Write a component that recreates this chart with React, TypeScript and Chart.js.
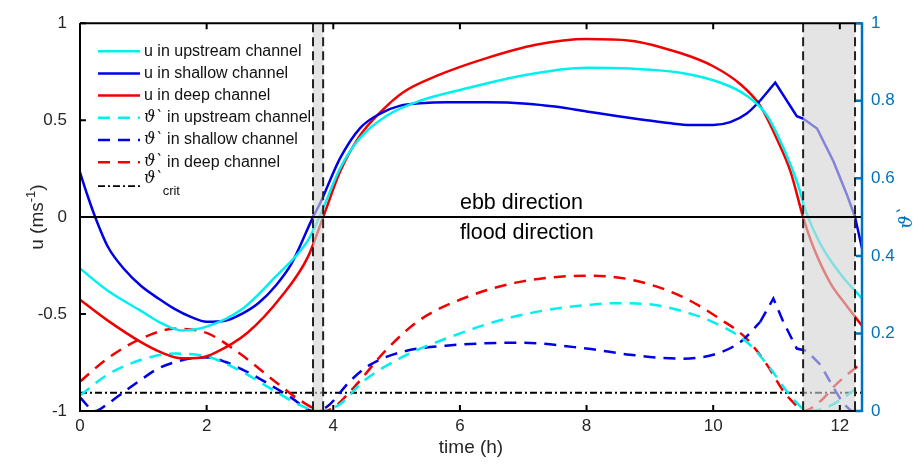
import React, { useEffect, useRef } from 'react';
import { Chart, registerables } from 'chart.js';
Chart.register(...registerables);

// ---------- data ----------
const X_MIN = 0;
const X_MAX = 12.35;
const xTicks = [0, 2, 4, 6, 8, 10, 12];
const U_MIN = -1;
const U_MAX = 1;
const uTicks = [-1, -0.5, 0, 0.5, 1];
const TH_MIN = 0;
const TH_MAX = 1;
const thTicks = [0, 0.2, 0.4, 0.6, 0.8, 1];

// u in upstream channel
const tUp = [0, 0.44, 0.97, 1.3, 1.6, 2.0, 2.55, 3.08, 3.6, 3.78, 4.11, 4.42, 4.85, 5.37, 6.16, 6.95, 8.0, 8.69, 9.48, 10.11, 10.53, 10.85, 11.11, 11.32, 11.48, 11.69, 12.0, 12.35];
const uUp = [-0.265, -0.38, -0.485, -0.55, -0.585, -0.565, -0.477, -0.31, -0.12, 0, 0.253, 0.407, 0.524, 0.6, 0.668, 0.728, 0.77, 0.766, 0.745, 0.694, 0.626, 0.524, 0.356, 0.185, 0.015, -0.137, -0.29, -0.42];

// u in shallow channel
const tSh = [0, 0.12, 0.24, 0.44, 0.71, 0.97, 1.25, 1.5, 1.75, 2.0, 2.29, 2.55, 2.82, 3.1, 3.34, 3.68, 3.79, 4.11, 4.42, 4.74, 5.06, 5.37, 5.8, 6.43, 7.06, 7.5, 8.0, 8.5, 8.95, 9.3, 9.64, 10.0, 10.27, 10.53, 10.74, 10.98, 11.32, 11.42, 11.64, 11.9, 12.11, 12.24, 12.35];
const uSh = [0.23, 0.11, 0, -0.153, -0.273, -0.357, -0.422, -0.475, -0.515, -0.54, -0.535, -0.5, -0.443, -0.35, -0.24, 0, 0.07, 0.305, 0.458, 0.534, 0.575, 0.587, 0.592, 0.592, 0.585, 0.57, 0.545, 0.52, 0.5, 0.485, 0.475, 0.475, 0.49, 0.534, 0.6, 0.694, 0.52, 0.508, 0.457, 0.287, 0.117, 0, -0.16];

// u in deep channel
const tDp = [0, 0.44, 0.97, 1.3, 1.6, 1.9, 2.13, 2.65, 3.18, 3.6, 3.84, 4.11, 4.42, 4.74, 5.1, 5.63, 6.42, 7.2, 8.0, 8.69, 9.48, 10.0, 10.43, 10.74, 11.0, 11.22, 11.42, 11.58, 11.85, 12.11, 12.35];
const uDp = [-0.426, -0.534, -0.646, -0.7, -0.728, -0.725, -0.7, -0.595, -0.41, -0.205, 0, 0.236, 0.42, 0.54, 0.643, 0.728, 0.82, 0.889, 0.918, 0.91, 0.846, 0.778, 0.685, 0.575, 0.407, 0.236, 0, -0.153, -0.34, -0.458, -0.56];

// theta' in upstream channel
const tUpT = [0, 0.44, 0.97, 1.5, 2.02, 2.55, 3.08, 3.5, 3.78, 4.11, 4.47, 5.1, 5.9, 6.68, 7.47, 8.0, 8.43, 8.95, 9.48, 10.0, 10.53, 10.9, 11.16, 11.32, 11.48, 11.8, 12.11, 12.35];
const thUp = [0.04, 0.094, 0.132, 0.148, 0.14, 0.102, 0.051, 0.013, 0, 0.018, 0.076, 0.14, 0.194, 0.236, 0.263, 0.273, 0.278, 0.276, 0.259, 0.229, 0.178, 0.11, 0.051, 0.021, 0, 0.01, 0.04, 0.07];

// theta' in shallow channel
const tShT = [0, 0.24, 0.45, 0.71, 1.0, 1.24, 1.5, 1.76, 2.02, 2.29, 2.55, 2.82, 3.1, 3.34, 3.68, 3.9, 4.27, 4.58, 5.1, 5.9, 6.95, 8.0, 8.69, 9.48, 10.0, 10.43, 10.74, 10.95, 11.11, 11.32, 11.48, 11.7, 11.9, 12.05, 12.18, 12.35];
const thSh = [0.035, 0, 0.02, 0.051, 0.085, 0.11, 0.126, 0.136, 0.138, 0.127, 0.108, 0.085, 0.058, 0.034, 0, 0.011, 0.078, 0.119, 0.153, 0.17, 0.176, 0.161, 0.145, 0.135, 0.145, 0.178, 0.229, 0.29, 0.229, 0.161, 0.155, 0.118, 0.06, 0.02, 0, 0];

// theta' in deep channel
const tDpT = [0, 0.44, 0.97, 1.5, 1.75, 2.02, 2.55, 3.08, 3.5, 3.84, 4.0, 4.32, 4.85, 5.37, 6.16, 6.95, 8.0, 8.69, 9.48, 10.11, 10.53, 10.85, 11.11, 11.27, 11.42, 11.69, 11.95, 12.35];
const thDp = [0.076, 0.136, 0.187, 0.212, 0.21, 0.2, 0.145, 0.076, 0.025, 0, 0.008, 0.06, 0.16, 0.235, 0.297, 0.333, 0.349, 0.339, 0.297, 0.237, 0.186, 0.119, 0.051, 0.021, 0, 0.025, 0.07, 0.125];

// critical theta'
const thCrit = 0.047;

// shaded periods (h)
const greyBands = [[3.68, 3.84], [11.42, 12.24]];

// time after which the shallow-channel curves are drawn unsmoothed (sharp peak)
const SHARP_FROM = 10.74;

const seriesLabels = [
  'u in upstream channel',
  'u in shallow channel',
  'u in deep channel',
  'ϑ` in upstream channel',
  'ϑ` in shallow channel',
  'ϑ` in deep channel',
];
const critSub = 'crit';
const ebbText = 'ebb direction';
const floodText = 'flood direction';
const xTitle = 'time (h)';
const yTitleMain = 'u (ms';
const yTitleSup = '-1';
const yTitleEnd = ')';

// ---------- styles ----------
const CYAN = '#00F0F0';
const BLUE = '#0000E6';
const RED = '#F00000';
const AX_BLUE = '#0072BD';
const TXT = '#262626';
const FONT = '"Liberation Sans", Arial, Helvetica, sans-serif';
const SERIF = '"DejaVu Serif", serif';
const DASH = [12, 8];
const DASHDOT = [7, 3, 2, 3];

const pts = (t: number[], v: number[]) => t.map((x, i) => ({ x, y: v[i] }));
const fmt = (v: number) => String(Math.round(v * 100) / 100);

function drawTheta(ctx: CanvasRenderingContext2D, x: number, y: number, size: number) {
  ctx.font = `italic ${size}px ${SERIF}`;
  ctx.fillText('ϑ', x, y);
  const w = ctx.measureText('ϑ').width;
  ctx.fillText('`', x + w - size * 0.05, y);
  const w2 = ctx.measureText('`').width;
  return w + w2 - size * 0.05;
}

const overlayPlugin = {
  id: 'overlay',
  afterDatasetsDraw(chart: any) {
    const { ctx, chartArea: ca, scales } = chart;
    const x = scales.x, y = scales.y, y2 = scales.y2;
    ctx.save();
    // grey bands over lines
    ctx.fillStyle = 'rgba(212,212,212,0.62)';
    greyBands.forEach(([a, b]) => {
      const xa = x.getPixelForValue(a), xb = x.getPixelForValue(b);
      ctx.fillRect(xa, ca.top, xb - xa, ca.bottom - ca.top);
    });
    // zero line
    ctx.strokeStyle = '#000';
    ctx.lineWidth = 2;
    ctx.setLineDash([]);
    ctx.beginPath();
    const y0 = y.getPixelForValue(0);
    ctx.moveTo(ca.left, y0);
    ctx.lineTo(ca.right, y0);
    ctx.stroke();
    // vertical dashed lines
    ctx.lineWidth = 2;
    ctx.strokeStyle = '#222';
    ctx.setLineDash([9, 5]);
    greyBands.forEach(([a, b]) => {
      [a, b].forEach((v) => {
        const px = x.getPixelForValue(v);
        ctx.beginPath();
        ctx.moveTo(px, ca.top);
        ctx.lineTo(px, ca.bottom);
        ctx.stroke();
      });
    });
    ctx.setLineDash([]);
    // box lines
    ctx.strokeStyle = '#000';
    ctx.lineWidth = 2;
    ctx.beginPath();
    ctx.moveTo(ca.left, ca.top);
    ctx.lineTo(ca.right, ca.top);
    ctx.moveTo(ca.left, ca.top);
    ctx.lineTo(ca.left, ca.bottom);
    ctx.lineTo(ca.right, ca.bottom);
    ctx.stroke();
    // ticks, inward
    const TL = 6;
    ctx.beginPath();
    x.ticks.forEach((tk: any) => {
      const px = x.getPixelForValue(tk.value);
      ctx.moveTo(px, ca.bottom);
      ctx.lineTo(px, ca.bottom - TL);
      ctx.moveTo(px, ca.top);
      ctx.lineTo(px, ca.top + TL);
    });
    y.ticks.forEach((tk: any) => {
      const py = y.getPixelForValue(tk.value);
      ctx.moveTo(ca.left, py);
      ctx.lineTo(ca.left + TL, py);
    });
    ctx.stroke();
    // right axis
    ctx.strokeStyle = AX_BLUE;
    ctx.lineWidth = 2.5;
    ctx.beginPath();
    ctx.moveTo(ca.right, ca.top - 1);
    ctx.lineTo(ca.right, ca.bottom + 1);
    y2.ticks.forEach((tk: any) => {
      const py = y2.getPixelForValue(tk.value);
      ctx.moveTo(ca.right, py);
      ctx.lineTo(ca.right - TL, py);
    });
    ctx.stroke();

    // ebb / flood text
    ctx.fillStyle = '#000';
    ctx.font = `21.5px ${FONT}`;
    ctx.textAlign = 'left';
    ctx.textBaseline = 'middle';
    ctx.fillText(ebbText, x.getPixelForValue(6), y.getPixelForValue(0.07));
    ctx.fillText(floodText, x.getPixelForValue(6), y.getPixelForValue(-0.08));

    // axis titles
    ctx.fillStyle = TXT;
    ctx.font = `19px ${FONT}`;
    ctx.textAlign = 'center';
    ctx.fillText(xTitle, (ca.left + ca.right) / 2, ca.bottom + 37);
    // left title with superscript
    ctx.save();
    ctx.translate(38, (ca.top + ca.bottom) / 2);
    ctx.rotate(-Math.PI / 2);
    ctx.textAlign = 'left';
    ctx.font = `19px ${FONT}`;
    const wMain = ctx.measureText(yTitleMain).width;
    ctx.font = `13px ${FONT}`;
    const wSup = ctx.measureText(yTitleSup).width;
    ctx.font = `19px ${FONT}`;
    const wEnd = ctx.measureText(yTitleEnd).width;
    const x0 = -(wMain + wSup + wEnd) / 2;
    ctx.fillText(yTitleMain, x0, 0);
    ctx.font = `13px ${FONT}`;
    ctx.fillText(yTitleSup, x0 + wMain, -7);
    ctx.font = `19px ${FONT}`;
    ctx.fillText(yTitleEnd, x0 + wMain + wSup, 0);
    ctx.restore();
    // right title
    ctx.save();
    ctx.fillStyle = AX_BLUE;
    ctx.translate(ca.right + 45, (ca.top + ca.bottom) / 2);
    ctx.rotate(-Math.PI / 2);
    ctx.textAlign = 'left';
    ctx.font = `italic 19px ${SERIF}`;
    const tw = ctx.measureText('ϑ`').width;
    drawTheta(ctx, -tw / 2, 0, 19);
    ctx.restore();

    // legend
    const colors = [CYAN, BLUE, RED, CYAN, BLUE, RED];
    const lx0 = ca.left + 18, lx1 = ca.left + 60, tx = ca.left + 64;
    ctx.textAlign = 'left';
    ctx.textBaseline = 'middle';
    seriesLabels.forEach((lab, i) => {
      const ly = ca.top + 28 + i * 22.2;
      ctx.strokeStyle = colors[i];
      ctx.lineWidth = 2.5;
      ctx.setLineDash(i >= 3 ? DASH : []);
      ctx.beginPath();
      ctx.moveTo(lx0, ly);
      ctx.lineTo(lx1, ly);
      ctx.stroke();
      ctx.fillStyle = '#111';
      if (lab.startsWith('ϑ`')) {
        const w = drawTheta(ctx, tx, ly, 16);
        ctx.font = `16px ${FONT}`;
        ctx.fillText(lab.slice(2), tx + w, ly);
      } else {
        ctx.font = `16px ${FONT}`;
        ctx.fillText(lab, tx, ly);
      }
    });
    const cy = ca.top + 163;
    ctx.strokeStyle = '#000';
    ctx.lineWidth = 1.8;
    ctx.setLineDash(DASHDOT);
    ctx.beginPath();
    ctx.moveTo(lx0, cy);
    ctx.lineTo(lx1, cy);
    ctx.stroke();
    ctx.setLineDash([]);
    ctx.fillStyle = '#111';
    const cw = drawTheta(ctx, tx, cy - 7, 16);
    ctx.font = `13px ${FONT}`;
    ctx.fillText(critSub, tx + cw, cy + 5);
    ctx.restore();
  },
};

export default function App() {
  const ref = useRef<HTMLCanvasElement>(null);
  useEffect(() => {
    document.body.style.margin = '0';
    const base = (t: number[], v: number[], color: string, axis: string, dashed: boolean, smooth: boolean) => ({
      data: pts(t, v), borderColor: color, backgroundColor: color, borderWidth: 2.5,
      pointRadius: 0, tension: 0, yAxisID: axis, borderDash: dashed ? DASH : [],
      cubicInterpolationMode: smooth ? 'monotone' : 'default',
    });
    // split shallow-channel curves into a smooth part and a sharp (unsmoothed) part
    const split = (t: number[], v: number[]) => {
      const i = t.indexOf(SHARP_FROM);
      return [[t.slice(0, i + 1), v.slice(0, i + 1)], [t.slice(i), v.slice(i)]];
    };
    const [shA, shB] = split(tSh, uSh);
    const [shTA, shTB] = split(tShT, thSh);
    const setTicks = (vals: number[]) => (s: any) => { s.ticks = vals.map((value) => ({ value })); };
    const chart = new Chart(ref.current as HTMLCanvasElement, {
      type: 'line',
      data: {
        datasets: [
          { label: seriesLabels[0], ...base(tUp, uUp, CYAN, 'y', false, true) },
          { label: seriesLabels[1], ...base(shA[0], shA[1], BLUE, 'y', false, true) },
          { label: seriesLabels[1] + ' (b)', ...base(shB[0], shB[1], BLUE, 'y', false, false) },
          { label: seriesLabels[2], ...base(tDp, uDp, RED, 'y', false, true) },
          { label: seriesLabels[3], ...base(tUpT, thUp, CYAN, 'y2', true, true) },
          { label: seriesLabels[4], ...base(shTA[0], shTA[1], BLUE, 'y2', true, true) },
          { label: seriesLabels[4] + ' (b)', ...base(shTB[0], shTB[1], BLUE, 'y2', true, false) },
          { label: seriesLabels[5], ...base(tDpT, thDp, RED, 'y2', true, true) },
          {
            label: 'crit', data: [{ x: X_MIN, y: thCrit }, { x: X_MAX, y: thCrit }],
            borderColor: '#000', borderWidth: 1.8, borderDash: DASHDOT, pointRadius: 0, yAxisID: 'y2',
          },
        ],
      },
      options: {
        animation: false,
        responsive: false,
        devicePixelRatio: 1,
        layout: { padding: { top: 16, left: 0, right: 0, bottom: 0 } },
        plugins: { legend: { display: false }, tooltip: { enabled: false } },
        scales: {
          x: {
            type: 'linear', min: X_MIN, max: X_MAX,
            grid: { display: false, drawTicks: false },
            border: { display: false },
            ticks: { color: TXT, font: { size: 17, family: FONT }, padding: 5, maxRotation: 0, autoSkip: false, callback: (v: any) => fmt(v) },
            afterBuildTicks: setTicks(xTicks),
            afterFit: (s: any) => { s.height = 55; },
          },
          y: {
            type: 'linear', position: 'left', min: U_MIN, max: U_MAX,
            grid: { display: false, drawTicks: false },
            border: { display: false },
            ticks: { color: TXT, font: { size: 17, family: FONT }, padding: 13, autoSkip: false, callback: (v: any) => fmt(v) },
            afterBuildTicks: setTicks(uTicks),
            afterFit: (s: any) => { s.width = 80; },
          },
          y2: {
            type: 'linear', position: 'right', min: TH_MIN, max: TH_MAX,
            grid: { display: false, drawTicks: false },
            border: { display: false },
            ticks: { color: AX_BLUE, font: { size: 17, family: FONT }, padding: 9, autoSkip: false, callback: (v: any) => fmt(v) },
            afterBuildTicks: setTicks(thTicks),
            afterFit: (s: any) => { s.width = 62; },
          },
        },
      },
      plugins: [overlayPlugin],
    } as any);
    return () => chart.destroy();
  }, []);
  return (
    <div style={{ width: 924, height: 466 }}>
      <canvas ref={ref} width={924} height={466} style={{ display: 'block' }} />
    </div>
  );
}
